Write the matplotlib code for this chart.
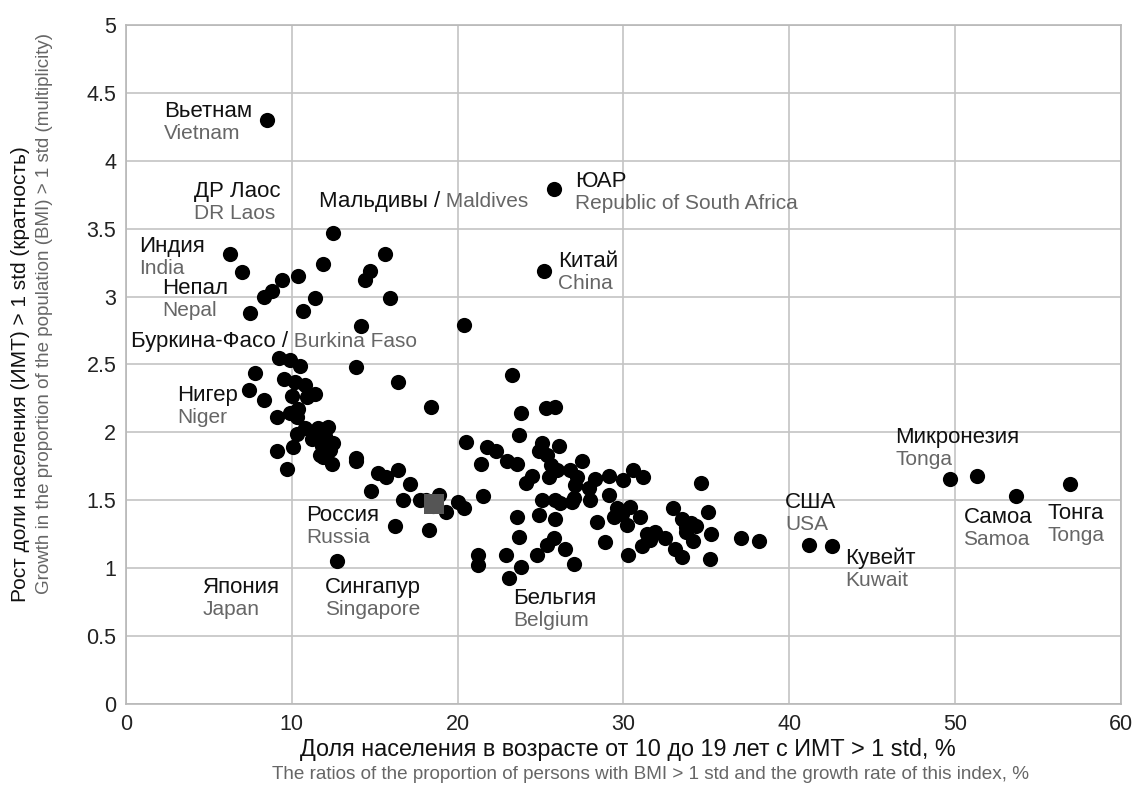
import matplotlib
matplotlib.use('Agg')
import matplotlib.pyplot as plt

plt.rcParams['font.family'] = ['Liberation Sans', 'DejaVu Sans']

# Data: share of population 10-19 with BMI > 1 std (%) vs growth (multiplicity)
share_pct = [
    8.5, 12.5, 6.3, 15.6, 7.0, 11.9, 14.7, 14.4, 10.4, 9.4,
    8.8, 8.3, 11.4, 15.9, 7.5, 10.7, 14.2,
    9.2, 9.9, 10.5, 13.9, 7.8, 16.4, 9.5, 10.2, 10.8, 7.4,
    11.4, 10.0, 10.9, 8.3, 18.4, 10.4, 9.9, 9.1, 10.3, 10.8,
    11.6, 12.2, 10.3, 11.2, 12.0, 12.5, 11.8, 10.1, 9.1, 12.3,
    11.7, 11.9, 13.9, 13.9, 12.4, 9.7, 15.2, 15.7, 16.4, 17.1,
    14.8, 16.7, 17.7, 18.9, 19.3, 16.2, 18.3, 12.7,
    25.8, 25.2, 20.4, 23.3, 23.8, 25.3, 25.9, 23.7, 20.5, 21.8,
    22.3, 21.4, 23.0, 23.6, 25.1, 26.1, 24.9, 25.4, 27.5, 25.6,
    24.1, 24.5, 25.5, 26.0, 26.8, 27.2, 27.1, 27.9, 28.3, 29.1,
    30.0, 30.6, 31.2, 29.1, 28.0, 21.5, 25.1, 25.9, 26.2, 26.9,
    27.0, 20.0, 20.4, 18.1, 18.5, 23.6, 24.9, 25.9, 23.7, 25.8,
    25.4, 24.8, 26.5, 27.0, 23.8, 22.9, 21.2, 21.2, 23.1, 28.4,
    28.9, 29.4, 29.6, 29.9, 30.2, 30.4, 31.0, 30.3, 31.1, 31.4,
    31.9, 31.6, 32.5, 33.0, 33.1, 33.5, 33.5, 33.8, 34.1, 34.4,
    33.8, 34.2, 34.7, 35.1, 35.3, 35.2, 37.1, 38.2, 41.2, 42.6,
    49.7, 51.3, 53.7, 56.9,
]
growth = [
    4.30, 3.47, 3.31, 3.31, 3.18, 3.24, 3.19, 3.12, 3.15, 3.12,
    3.04, 3.00, 2.99, 2.99, 2.88, 2.89, 2.78,
    2.55, 2.53, 2.49, 2.48, 2.44, 2.37, 2.39, 2.37, 2.35, 2.31,
    2.28, 2.27, 2.26, 2.24, 2.19, 2.17, 2.14, 2.11, 2.11, 2.03,
    2.03, 2.04, 1.99, 1.95, 1.97, 1.92, 1.90, 1.89, 1.86, 1.87,
    1.83, 1.82, 1.81, 1.79, 1.77, 1.73, 1.70, 1.67, 1.72, 1.62,
    1.57, 1.50, 1.50, 1.54, 1.41, 1.31, 1.28, 1.05,
    3.79, 3.19, 2.79, 2.42, 2.14, 2.18, 2.19, 1.98, 1.93, 1.89,
    1.86, 1.77, 1.79, 1.77, 1.92, 1.90, 1.86, 1.83, 1.79, 1.76,
    1.63, 1.68, 1.67, 1.72, 1.72, 1.67, 1.61, 1.59, 1.66, 1.68,
    1.65, 1.72, 1.67, 1.54, 1.50, 1.53, 1.50, 1.50, 1.48, 1.49,
    1.52, 1.49, 1.44, 1.50, 1.46, 1.38, 1.39, 1.36, 1.23, 1.22,
    1.17, 1.10, 1.14, 1.03, 1.01, 1.10, 1.10, 1.02, 0.93, 1.34,
    1.19, 1.38, 1.44, 1.40, 1.32, 1.45, 1.38, 1.10, 1.16, 1.25,
    1.27, 1.21, 1.22, 1.44, 1.14, 1.08, 1.36, 1.30, 1.33, 1.31,
    1.27, 1.20, 1.63, 1.41, 1.25, 1.07, 1.22, 1.20, 1.17, 1.16,
    1.66, 1.68, 1.53, 1.62,
]

russia_share = [18.6]
russia_growth = [1.47]

# Country labels: Russian name, English name, label anchor (x, y)
label_ru = ['Вьетнам', 'ДР Лаос', 'Индия', 'Непал', 'Нигер', 'Япония',
            'Сингапур', 'Россия', 'Бельгия', 'ЮАР', 'Китай', 'США',
            'Кувейт', 'Микронезия', 'Самоа', 'Тонга']
label_en = ['Vietnam', 'DR Laos', 'India', 'Nepal', 'Niger', 'Japan',
            'Singapore', 'Russia', 'Belgium', 'Republic of South Africa',
            'China', 'USA', 'Kuwait', 'Tonga', 'Samoa', 'Tonga']
label_x = [2.3, 4.1, 0.8, 2.2, 3.1, 4.65, 12.0, 10.85, 23.35, 27.1,
           26.05, 39.75, 43.35, 46.4, 50.5, 55.55]
label_y = [4.36, 3.77, 3.37, 3.06, 2.27, 0.86, 0.86, 1.39, 0.78, 3.85,
           3.26, 1.48, 1.07, 1.96, 1.37, 1.40]

# One-line labels "Russian / English"
inline_ru = ['Мальдивы /', 'Буркина-Фасо /']
inline_en = [' Maldives', ' Burkina Faso']
inline_x = [11.65, 0.3]
inline_y = [3.70, 2.67]

BLACK = '#111111'
GRAY = '#666666'
GRID = '#c4c4c4'
RU_SIZE = 16
EN_SIZE = 15

fig = plt.figure(figsize=(11.34, 7.91), dpi=100)
ax = fig.add_axes([0.1111, 0.1100, 0.8774, 0.8585])

ax.scatter(share_pct, growth, s=120, color='black', linewidths=0, zorder=3)
ax.scatter(russia_share, russia_growth, s=190, marker='s', color='#555555',
           linewidths=0, zorder=4)

for ru, en, x, y in zip(label_ru, label_en, label_x, label_y):
    ax.text(x, y, ru, fontsize=RU_SIZE, color=BLACK, ha='left', va='center', zorder=5)
    ax.text(x, y - 0.162, en, fontsize=EN_SIZE, color=GRAY, ha='left', va='center', zorder=5)

for ru, en, x, y in zip(inline_ru, inline_en, inline_x, inline_y):
    t = ax.text(x, y, ru, fontsize=RU_SIZE, color=BLACK, ha='left', va='center', zorder=5)
    ax.annotate(en, xy=(1, 0.5), xycoords=t, fontsize=EN_SIZE, color=GRAY,
                ha='left', va='center', zorder=5)

ax.set_xlim(0, 60)
ax.set_ylim(0, 5)
ax.set_xticks(range(0, 61, 10))
ax.set_yticks([0, 0.5, 1, 1.5, 2, 2.5, 3, 3.5, 4, 4.5, 5])
ax.set_yticklabels(['0', '0.5', '1', '1.5', '2', '2.5', '3', '3.5', '4', '4.5', '5'])
ax.tick_params(length=0, labelsize=15.5, colors='#222222', pad=7)
ax.grid(True, color=GRID, linewidth=1.2, zorder=0)
ax.set_axisbelow(True)
for sp in ax.spines.values():
    sp.set_color('#b8b8b8')
    sp.set_linewidth(1.2)

# axis titles: Russian in black, English in gray
fig.text(0.0185, 1 - 374 / 791, 'Рост доли населения (ИМТ) > 1 std (кратность)',
         rotation=90, fontsize=15, color=BLACK, ha='center', va='center')
fig.text(0.0395, 1 - 314 / 791, 'Growth in the proportion of the population (BMI) > 1 std (multiplicity)',
         rotation=90, fontsize=13.5, color=GRAY, ha='center', va='center')
fig.text(300 / 1134, 0.052, 'Доля населения в возрасте от 10 до 19 лет с ИМТ > 1 std, %',
         fontsize=16.8, color=BLACK, ha='left', va='center')
fig.text(272 / 1134, 0.021, 'The ratios of the proportion of persons with BMI > 1 std and the growth rate of this index, %',
         fontsize=13.6, color=GRAY, ha='left', va='center')

fig.savefig('out.png', dpi=100)
